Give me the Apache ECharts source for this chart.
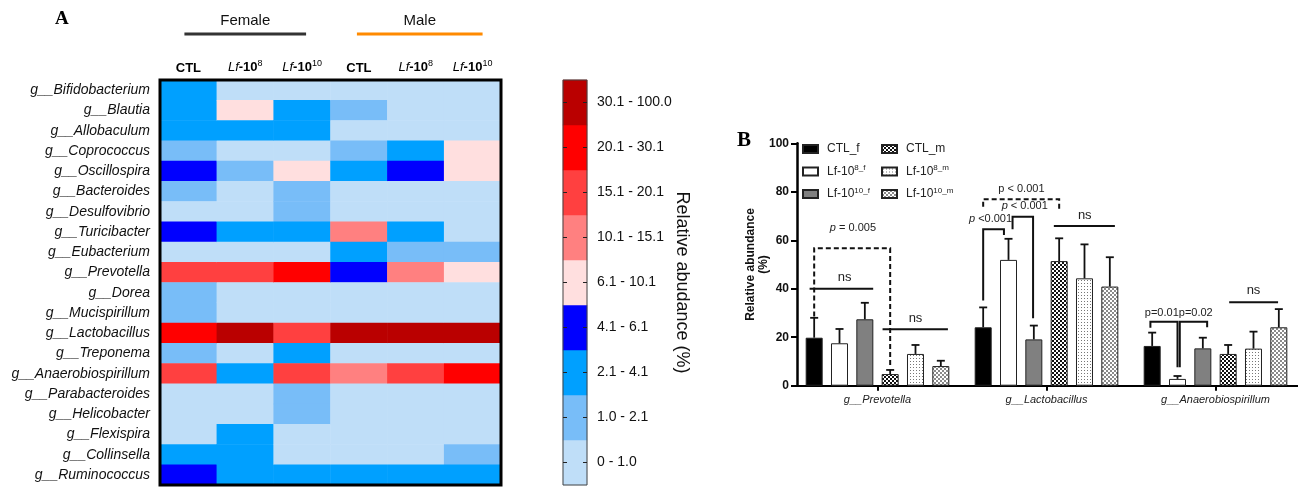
<!DOCTYPE html>
<html><head><meta charset="utf-8">
<script src="https://cdn.jsdelivr.net/npm/echarts/dist/echarts.min.js"></script>
<style>html,body{margin:0;padding:0;background:#fff}#c{width:1298px;height:487px}</style>
</head><body><div id="c"></div>
<script>
// ---------------- DATA ----------------
const genera = ['g__Bifidobacterium','g__Blautia','g__Allobaculum','g__Coprococcus','g__Oscillospira','g__Bacteroides','g__Desulfovibrio','g__Turicibacter','g__Eubacterium','g__Prevotella','g__Dorea','g__Mucispirillum','g__Lactobacillus','g__Treponema','g__Anaerobiospirillum','g__Parabacteroides','g__Helicobacter','g__Flexispira','g__Collinsella','g__Ruminococcus'];
const groupKeys = ['F_CTL','F_Lf8','F_Lf10','M_CTL','M_Lf8','M_Lf10'];
const groupLabels = ['{b|CTL}','{i|Lf}{b|-10}{sup|8}','{i|Lf}{b|-10}{sup|10}','{b|CTL}','{i|Lf}{b|-10}{sup|8}','{i|Lf}{b|-10}{sup|10}'];
// relative abundance (%) per group column, one value per genus
const ctlF  = [3.2,2.8,3.6,1.8,4.9,1.3,0.8,5.6,0.4,19.8,1.2,1.5,24.1,1.6,16.4,0.7,0.5,0.3,2.2,4.4];
const lf8F  = [0.6,7.0,2.9,0.9,1.7,0.7,0.9,2.7,0.6,17.5,0.5,0.3,51.9,0.6,2.8,0.8,0.4,2.5,2.4,3.8];
const lf10F = [0.4,3.5,2.5,0.8,6.8,1.9,1.2,3.1,0.9,27.4,0.6,0.2,19.1,2.3,15.4,1.1,1.3,0.6,0.7,3.0];
const ctlM  = [0.5,1.6,0.6,1.4,3.3,0.5,0.6,11.2,2.2,4.8,0.4,0.3,51.4,0.4,13.1,0.5,0.2,0.4,0.6,3.4];
const lf8M  = [0.3,0.8,0.5,2.6,5.2,0.4,0.7,2.4,1.4,13.1,0.5,0.2,44.3,0.3,15.3,0.6,0.3,0.5,0.8,2.9];
const lf10M = [0.4,0.7,0.3,6.5,7.2,0.6,0.5,0.9,1.1,8.1,0.3,0.4,40.9,0.5,24.1,0.4,0.1,0.3,1.2,3.2];
const groupNames = ['Female','Male'];
// colour classes
const bandBounds = [0,1.0,2.1,4.1,6.1,10.1,15.1,20.1,30.1,100];
const bandLabels = ['0 - 1.0','1.0 - 2.1','2.1 - 4.1','4.1 - 6.1','6.1 - 10.1','10.1 - 15.1','15.1 - 20.1','20.1 - 30.1','30.1 - 100.0'];
const bandColors = ['#BFDEF8','#78BDF8','#00A0FF','#0000FF','#FFDFDF','#FF8080','#FF4040','#FF0000','#BA0000'];
// panel B
const barCategories = ['g__Prevotella','g__Lactobacillus','g__Anaerobiospirillum'];
const barSeriesNames = ['CTL_f','Lf8_f','Lf10_f','CTL_m','Lf8_m','Lf10_m'];
const meanCTLf  = [19.8, 24.1, 16.4];
const meanLf8f  = [17.5, 51.9, 2.8];
const meanLf10f = [27.4, 19.1, 15.4];
const meanCTLm  = [4.8, 51.4, 13.1];
const meanLf8m  = [13.1, 44.3, 15.3];
const meanLf10m = [8.1, 40.9, 24.1];
const errCTLf  = [8.2, 8.2, 5.5];
const errLf8f  = [5.9, 8.7, 1.2];
const errLf10f = [6.8, 5.7, 4.4];
const errCTLm  = [1.7, 9.4, 3.7];
const errLf8m  = [3.7, 14.0, 7.0];
const errLf10m = [2.2, 12.1, 7.5];
// significance brackets: [category, fromBarSlot, toBarSlot, top, leftLegEnd, rightLegEnd, dashed]
const brackets = [
  [0, 0, 3, 56.7, 28.5, 7.8, true],
  [0, -0.18, 2.33, 40, null, null, false],
  [0, 2.7, 5.28, 23.3, null, null, false],
  [1, 0, 3, 76.9, 73.8, 72.0, true],
  [1, 1.16, 1.97, 69.7, 64.5, 27.8, false],
  [1, 0, 0.82, 64.5, 35.1, 62.2, false],
  [1, 2.79, 5.2, 65.9, null, null, false],
  [2, -0.07, 1.0, 26.4, 23.9, 7.6, false],
  [2, 1.09, 2.17, 26.4, 7.6, 24.1, false],
  [2, 3.04, 4.97, 34.4, null, null, false]
];
// significance texts: [category, barSlot, value, text]
const sigTexts = [
  [0, 1.53, 65, '{i|p} = 0.005'],
  [0, 1.2, 44.5, '{n|ns}'],
  [0, 4.0, 27.9, '{n|ns}'],
  [1, 1.51, 81, 'p < 0.001'],
  [1, 1.64, 74.1, '{i|p} < 0.001'],
  [1, 0.29, 68.6, '{i|p} <0.001'],
  [1, 4.01, 70.4, '{n|ns}'],
  [2, 1.05, 30.1, 'p=0.01p=0.02'],
  [2, 4.0, 39.2, '{n|ns}']
];

// ---------------- STYLE / BUILD ----------------
const FONT = "'Liberation Sans', Arial, sans-serif";
const SERIF = "'Liberation Serif', 'Times New Roman', serif";
const BAR_W = 17, BAR_GAP = 0.49, PITCH = BAR_W * (1 + BAR_GAP);

function pattern(kind) {
  const c = document.createElement('canvas');
  const g = c.getContext('2d');
  if (kind === 'checkBlack') {
    c.width = 4; c.height = 4;
    g.fillStyle = '#fff'; g.fillRect(0,0,4,4);
    g.fillStyle = '#111'; g.fillRect(0,0,2,2); g.fillRect(2,2,2,2);
  } else if (kind === 'checkGray') {
    c.width = 4; c.height = 4;
    g.fillStyle = '#fff'; g.fillRect(0,0,4,4);
    g.fillStyle = '#8a8a8a'; g.fillRect(0,0,2,2); g.fillRect(2,2,2,2);
  } else {
    c.width = 3; c.height = 3;
    g.fillStyle = '#fff'; g.fillRect(0,0,3,3);
    g.fillStyle = '#777'; g.fillRect(1,1,1,1);
  }
  return { image: c, repeat: 'repeat' };
}

const heatCols = [ctlF, lf8F, lf10F, ctlM, lf8M, lf10M];
const heatData = [];
heatCols.forEach((col, x) => col.forEach((v, y) => heatData.push([x, y, v])));
const bandData = bandLabels.map((l, i) => [0, i, (bandBounds[i] + bandBounds[i+1]) / 2]);
const pieces = bandLabels.map((l, i) => i === 0
  ? { gte: bandBounds[0], lte: bandBounds[1], color: bandColors[0] }
  : { gt: bandBounds[i], lte: bandBounds[i+1], color: bandColors[i] });

const means = [meanCTLf, meanLf8f, meanLf10f, meanCTLm, meanLf8m, meanLf10m];
const errs = [errCTLf, errLf8f, errLf10f, errCTLm, errLf8m, errLf10m];
const barFills = ['#000', '#fff', '#808080', pattern('checkBlack'), pattern('dots'), pattern('checkGray')];
const legendText = {
  'CTL_f': 'CTL_f', 'Lf8_f': 'Lf-10{s|8_f}', 'Lf10_f': 'Lf-10{s|10_f}',
  'CTL_m': 'CTL_m', 'Lf8_m': 'Lf-10{s|8_m}', 'Lf10_m': 'Lf-10{s|10_m}'
};
const errData = [];
means.forEach((m, s) => m.forEach((v, c) => errData.push([c, s, v, errs[s][c]])));

function slotX(api, cat, slot) {
  return api.coord([cat, 0])[0] + (slot - 2.5) * PITCH;
}

const barSeries = barSeriesNames.map((n, s) => ({
  type: 'bar', name: n, xAxisIndex: 2, yAxisIndex: 3,
  data: means[s], barWidth: BAR_W, barGap: (BAR_GAP * 100) + '%',
  itemStyle: { color: barFills[s], borderColor: '#222', borderWidth: 1 },
  emphasis: { disabled: true }, z: 2
}));

const legendCommon = {
  orient: 'vertical', itemWidth: 15, itemHeight: 8, itemGap: 9,
  icon: 'rect', selectedMode: false,
  formatter: n => legendText[n],
  textStyle: { fontFamily: FONT, fontSize: 12, color: '#222', padding: [0,0,0,4],
    rich: { s: { fontFamily: FONT, fontSize: 8, color: '#222', padding: [0,0,7,0] } } }
};

const option = {
  animation: false,
  backgroundColor: '#fff',
  grid: [
    { left: 160, top: 80, width: 341, height: 405, show: true, borderWidth: 3, borderColor: '#000', z: 5, outerBoundsMode: 'none' },
    { left: 563, top: 80, width: 24, height: 405, show: true, borderWidth: 1, borderColor: '#444', z: 5, outerBoundsMode: 'none' },
    { left: 793, top: 143.3, width: 507, height: 242.4, outerBoundsMode: 'none' }
  ],
  xAxis: [
    { type: 'category', gridIndex: 0, data: groupKeys, position: 'top',
      axisLine: { show: false }, axisTick: { show: false }, splitLine: { show: false },
      axisLabel: { interval: 0, hideOverlap: false, margin: 5, formatter: (v, i) => groupLabels[i],
        rich: { b: { fontFamily: FONT, fontWeight: 'bold', fontSize: 13, color: '#000' },
                i: { fontFamily: FONT, fontStyle: 'italic', fontSize: 13, color: '#000' },
                sup: { fontFamily: FONT, fontSize: 9, color: '#000', padding: [0,0,7,0] } } } },
    { type: 'category', gridIndex: 1, data: [''], show: false },
    { type: 'category', gridIndex: 2, data: barCategories,
      axisLine: { show: true, lineStyle: { color: '#000', width: 2 } },
      axisTick: { show: true, alignWithLabel: true, length: 5, lineStyle: { color: '#000', width: 2 } },
      axisLabel: { interval: 0, fontFamily: FONT, fontStyle: 'italic', fontSize: 11, color: '#222', margin: 9 },
      splitLine: { show: false } }
  ],
  yAxis: [
    { type: 'category', gridIndex: 0, data: genera, inverse: true,
      axisLine: { show: false }, axisTick: { show: false }, splitLine: { show: false },
      axisLabel: { interval: 0, fontFamily: FONT, fontStyle: 'italic', fontSize: 14, color: '#111', margin: 10 } },
    { type: 'category', gridIndex: 1, data: bandLabels, position: 'left', z: 6,
      axisLine: { show: false }, axisLabel: { show: false }, splitLine: { show: false },
      axisTick: { show: true, inside: true, alignWithLabel: true, length: 4, lineStyle: { color: '#222', width: 1 } } },
    { type: 'category', gridIndex: 1, data: bandLabels, position: 'right', z: 6,
      axisLine: { show: false }, splitLine: { show: false },
      axisTick: { show: true, inside: true, alignWithLabel: true, length: 4, lineStyle: { color: '#222', width: 1 } },
      axisLabel: { interval: 0, fontFamily: FONT, fontSize: 14, color: '#111', margin: 10 },
      name: 'Relative abudance (%)', nameLocation: 'middle', nameRotate: -90, nameGap: 86, nameMoveOverlap: false,
      nameTextStyle: { fontFamily: FONT, fontSize: 18, color: '#111' } },
    { type: 'value', gridIndex: 2, min: 0, max: 100, interval: 20, offset: -4,
      axisLine: { show: true, lineStyle: { color: '#000', width: 2.5 } },
      axisTick: { show: true, length: 6, lineStyle: { color: '#000', width: 2 } },
      splitLine: { show: false },
      axisLabel: { fontFamily: FONT, fontWeight: 'bold', fontSize: 12, color: '#111', margin: 8 },
      name: 'Relative abundance\n(%)', nameLocation: 'middle', nameRotate: 90, nameGap: 27, nameMoveOverlap: false,
      nameTextStyle: { fontFamily: FONT, fontWeight: 'bold', fontSize: 12, lineHeight: 13, color: '#111' } }
  ],
  visualMap: { type: 'piecewise', show: false, seriesIndex: [0, 1], dimension: 2, pieces: pieces },
  legend: [
    Object.assign({ left: 797, top: 138, data: ['CTL_f','Lf8_f','Lf10_f'] }, legendCommon),
    Object.assign({ left: 876, top: 138, data: ['CTL_m','Lf8_m','Lf10_m'] }, legendCommon)
  ],
  series: [
    { type: 'heatmap', xAxisIndex: 0, yAxisIndex: 0, data: heatData, emphasis: { disabled: true }, progressive: 0 },
    { type: 'heatmap', xAxisIndex: 1, yAxisIndex: 1, data: bandData, emphasis: { disabled: true } },
    ...barSeries,
    { type: 'custom', name: 'errors', xAxisIndex: 2, yAxisIndex: 3, data: errData, encode: { x: 0, y: 2 }, z: 4, clip: false,
      renderItem: (params, api) => {
        const d = errData[params.dataIndex];
        const x = slotX(api, d[0], d[1]);
        const y1 = api.coord([d[0], d[2]])[1];
        const y2 = api.coord([d[0], d[2] + d[3]])[1];
        const st = { stroke: '#111', lineWidth: 1.8 };
        return { type: 'group', children: [
          { type: 'line', shape: { x1: x, y1: y1, x2: x, y2: y2 }, style: st },
          { type: 'line', shape: { x1: x - 4, y1: y2, x2: x + 4, y2: y2 }, style: st }
        ] };
      } },
    { type: 'custom', name: 'brackets', xAxisIndex: 2, yAxisIndex: 3, data: brackets.map(b => [b[0], b[3]]), encode: { x: 0, y: 1 }, z: 5, clip: false,
      renderItem: (params, api) => {
        const b = brackets[params.dataIndex];
        const x1 = slotX(api, b[0], b[1]), x2 = slotX(api, b[0], b[2]);
        const yt = api.coord([b[0], b[3]])[1];
        const pts = [];
        if (b[4] !== null) pts.push([x1, api.coord([b[0], b[4]])[1]]);
        pts.push([x1, yt]); pts.push([x2, yt]);
        if (b[5] !== null) pts.push([x2, api.coord([b[0], b[5]])[1]]);
        return { type: 'polyline', shape: { points: pts },
          style: { stroke: '#111', lineWidth: 2, fill: null, lineDash: b[6] ? [5, 3] : null } };
      } },
    { type: 'custom', name: 'sigText', xAxisIndex: 2, yAxisIndex: 3, data: sigTexts.map(t => [t[0], t[2]]), encode: { x: 0, y: 1 }, z: 5, clip: false,
      renderItem: (params, api) => {
        const t = sigTexts[params.dataIndex];
        const x = slotX(api, t[0], t[1]);
        const y = api.coord([t[0], t[2]])[1];
        return { type: 'text', x: x, y: y, style: { text: t[3], align: 'center', verticalAlign: 'middle',
          fontFamily: FONT, fontSize: 11, fill: '#222',
          rich: { i: { fontFamily: FONT, fontSize: 11, fontStyle: 'italic', fill: '#222' },
                  n: { fontFamily: FONT, fontSize: 13, fill: '#222' } } } };
      } }
  ]
};

const chart = echarts.init(document.getElementById('c'));
chart.setOption(option);

// group headers over heatmap columns, positioned from the axis scale
const cx = groupKeys.map((k, i) => chart.convertToPixel({ xAxisIndex: 0 }, i));
const fem = [cx[0] - 4, cx[2] + 4], mal = [cx[3] - 2, cx[5] + 10];
chart.setOption({
  graphic: [
    { type: 'text', left: 55, top: 10, style: { text: 'A', fontFamily: SERIF, fontWeight: 'bold', fontSize: 19, fill: '#000' } },
    { type: 'text', left: 737, top: 130, style: { text: 'B', fontFamily: SERIF, fontWeight: 'bold', fontSize: 21, fill: '#000' } },
    { type: 'line', shape: { x1: fem[0], y1: 34, x2: fem[1], y2: 34 }, style: { stroke: '#333', lineWidth: 3 } },
    { type: 'line', shape: { x1: mal[0], y1: 34, x2: mal[1], y2: 34 }, style: { stroke: '#FF8A00', lineWidth: 3 } },
    { type: 'text', x: (fem[0] + fem[1]) / 2, y: 21, style: { text: groupNames[0], align: 'center', verticalAlign: 'middle', fontFamily: FONT, fontSize: 15, fill: '#111' } },
    { type: 'text', x: (mal[0] + mal[1]) / 2, y: 21, style: { text: groupNames[1], align: 'center', verticalAlign: 'middle', fontFamily: FONT, fontSize: 15, fill: '#111' } }
  ]
});
</script>
</body></html>
